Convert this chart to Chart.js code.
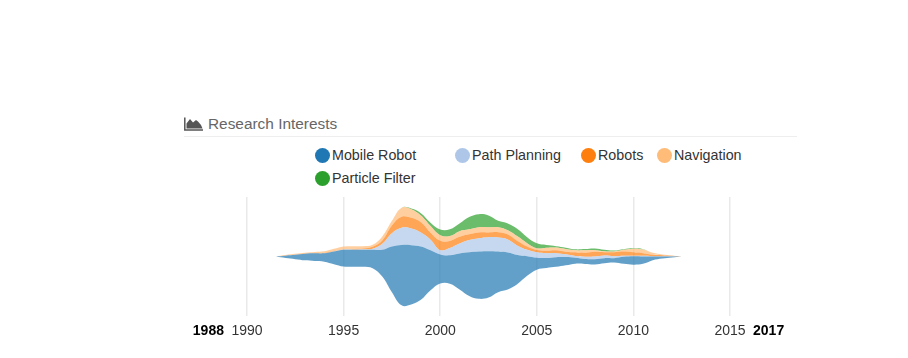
<!DOCTYPE html>
<html>
<head>
<meta charset="utf-8">
<title>Research Interests</title>
<script src="https://cdn.jsdelivr.net/npm/chart.js@4"></script>
<style>
    html, body { margin: 0; padding: 0; background: #fff; }
    body { width: 908px; height: 358px; position: relative; overflow: hidden; font-family: "Liberation Sans", Arial, sans-serif; }
    canvas { position: absolute; left: 0; top: 0; }
    .title { position: absolute; left: 208px; top: 115px; font-size: 15.4px; line-height: 18px; color: #666; }
    .icon { position: absolute; left: 184px; top: 116px; }
    .rule { position: absolute; left: 184px; top: 136px; width: 613px; height: 1px; background: #eee; }
    .key { position: absolute; font-size: 14.3px; line-height: 16px; color: #333; white-space: nowrap; padding-left: 17px; }
    .key i { position: absolute; left: 0; top: 0.5px; width: 15px; height: 15px; border-radius: 50%; }
</style>
</head>
<body>
<svg class="icon" width="20" height="15" viewBox="0 0 20 15">
    <path d="M0.8 1.5V14H19" fill="none" stroke="#555" stroke-width="1.5"/>
    <path d="M2.5 12.5V7.5L6 3L9 6.5L12 4L14 5.5L17 9L18.5 12.5Z" fill="#555"/>
</svg>
<div class="title">Research Interests</div>
<div class="rule"></div>
<div id="legend"></div>
<canvas id="myChart" width="908" height="358"></canvas>
<script>
'use strict';
var years = [1991.5, 1992, 1992.5, 1993, 1993.5, 1994, 1994.5, 1995, 1995.5, 1996, 1996.5, 1997, 1997.5, 1998, 1998.5, 1999, 1999.5, 2000, 2000.5, 2001, 2001.5, 2002, 2002.5, 2003, 2003.5, 2004, 2004.5, 2005, 2005.5, 2006, 2006.5, 2007, 2007.5, 2008, 2008.5, 2009, 2009.5, 2010, 2010.5, 2011, 2011.5, 2012, 2012.5];
var mobileRobot = [0, 7, 13, 20, 23, 25, 38, 50, 51, 51, 55, 80, 137, 181, 178, 160, 120, 87, 85, 108, 131, 142, 139, 122, 111, 87, 59, 36, 30, 29, 25, 18, 15, 16, 15, 13, 21, 25, 22, 11, 6, 3, 0];
var pathPlanning = [0, 0, 0, 0, 0, 0, 1, 1, 1, 2, 3, 18, 40, 52, 50, 42, 32, 13, 22, 30, 37, 40, 42, 42, 39, 28, 19, 16, 14, 12, 8, 5, 7, 8, 8, 6, 3, 2, 2, 1, 1, 1, 0];
var robots = [0, 0.5, 0.5, 0.5, 1, 1, 1, 1, 1.5, 2, 6, 10, 23, 33, 32, 31, 21, 28, 21, 20, 17, 17, 14, 16, 15, 14, 10, 7, 8, 9, 8, 11, 12, 14, 10, 12, 13, 10, 8, 4, 3, 1, 0];
var navigation = [0, 1.5, 2.5, 2.5, 3, 5, 6, 8, 8.5, 7, 6, 12, 14, 27, 26, 20, 20, 17, 15, 17, 15, 16, 16, 15, 13, 14, 10, 5, 9, 8, 8, 6, 7, 5, 3, 2, 5, 11, 11, 6, 2, 1, 0];
var particleFilter = [0, 0, 0, 0, 0, 0, 0, 0, 0, 0, 0, 0, 0, 0, 2, 7, 10, 17, 20, 23, 37, 39, 35, 19, 20, 22, 18, 15, 8, 4, 4, 3, 4, 5, 4, 3, 2, 1, 1, 0, 0, 0, 0];
var seriesNames = ['Mobile Robot', 'Path Planning', 'Robots', 'Navigation', 'Particle Filter'];
var seriesValues = [mobileRobot, pathPlanning, robots, navigation, particleFilter];
var seriesColors = ['#1f77b4', '#aec7e8', '#ff7f0e', '#ffbb78', '#2ca02c'];
var fillColors = ['rgba(31,119,180,0.7)', 'rgba(174,199,232,0.7)', 'rgba(255,127,14,0.7)', 'rgba(255,187,120,0.7)', 'rgba(44,160,44,0.7)'];
var tickYears = [1988, 1990, 1995, 2000, 2005, 2010, 2015, 2017];
var edgeYears = [1988, 2017];

// legend columns sit at fixed spots like the original layout
var legendSpots = [[315, 147], [455, 147], [581, 147], [657, 147], [315, 170]];
var legend = document.getElementById('legend');
seriesNames.forEach(function(name, i) {
    var key = document.createElement('div');
    key.className = 'key';
    key.style.left = legendSpots[i][0] + 'px';
    key.style.top = legendSpots[i][1] + 'px';
    key.innerHTML = '<i style="background:' + seriesColors[i] + '"></i>' + name;
    legend.appendChild(key);
});

// stream layout: centre the stack on zero, each layer is drawn from the running sum
var running = years.map(function(year, i) {
    var total = 0;
    seriesValues.forEach(function(values) { total += values[i]; });
    return -total / 2;
});
function points(values) {
    return years.map(function(year, i) { return {x: year, y: values[i]}; });
}
var datasets = [{
    label: 'baseline',
    data: points(running),
    pointRadius: 0,
    borderWidth: 0,
    fill: false,
    tension: 0.4
}];
seriesNames.forEach(function(name, s) {
    running = running.map(function(base, i) { return base + seriesValues[s][i]; });
    datasets.push({
        label: name,
        data: points(running),
        pointRadius: 0,
        borderWidth: 0,
        backgroundColor: fillColors[s],
        fill: '-1',
        tension: 0.4
    });
});

// the end years get bold labels and no grid line; ctx.tick is missing on the scale-level pass
function isEdge(ctx) {
    return !!ctx.tick && edgeYears.indexOf(ctx.tick.value) >= 0;
}

new Chart(document.getElementById('myChart').getContext('2d'), {
    type: 'line',
    data: {datasets: datasets},
    options: {
        responsive: false,
        animation: false,
        layout: {padding: {left: 208.4, right: 139.4, top: 197, bottom: 0}},
        plugins: {legend: {display: false}, tooltip: {enabled: false}},
        scales: {
            x: {
                type: 'linear',
                min: 1988,
                max: 2017,
                afterBuildTicks: function(scale) {
                    scale.ticks = tickYears.map(function(year) { return {value: year}; });
                },
                afterFit: function(scale) { scale.height = 42; },
                border: {display: false},
                grid: {
                    drawTicks: false,
                    lineWidth: 1.5,
                    color: function(ctx) {
                        return isEdge(ctx) ? 'rgba(0,0,0,0)' : '#e9e9e9';
                    }
                },
                ticks: {
                    autoSkip: false,
                    maxRotation: 0,
                    padding: 7,
                    callback: function(value) { return String(value); },
                    color: function(ctx) {
                        return isEdge(ctx) ? '#000' : '#333';
                    },
                    font: function(ctx) {
                        return {
                            family: '"Liberation Sans", Arial, sans-serif',
                            size: 14,
                            weight: isEdge(ctx) ? 'bold' : 'normal'
                        };
                    }
                }
            },
            y: {
                display: false,
                min: -178.5,
                max: 178.5
            }
        }
    }
});
</script>
</body>
</html>
